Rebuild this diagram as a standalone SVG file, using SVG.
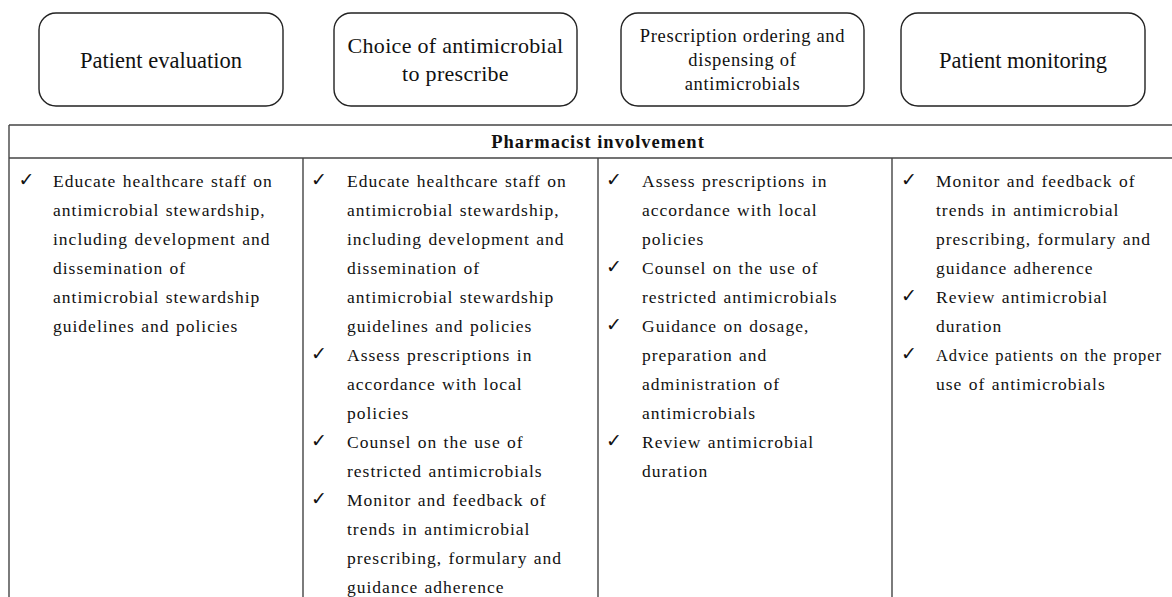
<svg xmlns="http://www.w3.org/2000/svg" width="1172" height="597" viewBox="0 0 1172 597">
<style>
.box{fill:#fff;stroke:#222;stroke-width:1.4}
.bt{font-family:"Liberation Serif","Times New Roman",serif;fill:#111;text-anchor:middle}
.grid{stroke:#444;stroke-width:1.4;fill:none}
.hd{font-family:"Liberation Serif","Times New Roman",serif;font-weight:bold;font-size:18.5px;letter-spacing:1px;fill:#111;text-anchor:middle}
.b{font-family:"Liberation Serif","Times New Roman",serif;font-size:17.5px;letter-spacing:1px;word-spacing:1px;fill:#111}
.ck{font-family:"DejaVu Sans",sans-serif;font-size:19px;fill:#111;text-anchor:middle}
</style>
<rect width="1172" height="597" fill="#fff"/>
<g id="node-patient-evaluation">
<rect class="box" x="39" y="13" width="244" height="93" rx="17"/>
<text class="bt" x="161" y="68" font-size="22.5">Patient evaluation</text>
</g>
<g id="node-choice">
<rect class="box" x="334" y="13" width="243" height="93" rx="17"/>
<text class="bt" x="455.5" y="53" font-size="22" letter-spacing="0.3">Choice of antimicrobial</text>
<text class="bt" x="455.5" y="81" font-size="22" letter-spacing="0.3">to prescribe</text>
</g>
<g id="node-prescription">
<rect class="box" x="621" y="13" width="243" height="93" rx="17"/>
<text class="bt" x="742.5" y="42" font-size="18.5" letter-spacing="0.7">Prescription ordering and</text>
<text class="bt" x="742.5" y="66" font-size="18.5" letter-spacing="0.7">dispensing of</text>
<text class="bt" x="742.5" y="90" font-size="18.5" letter-spacing="0.7">antimicrobials</text>
</g>
<g id="node-patient-monitoring">
<rect class="box" x="901" y="13" width="244" height="93" rx="17"/>
<text class="bt" x="1023" y="68" font-size="22.5">Patient monitoring</text>
</g>
<g id="table">
<g id="table-grid" class="grid">
<line x1="9" y1="125" x2="1190" y2="125"/>
<line x1="9" y1="158" x2="1190" y2="158"/>
<line x1="9" y1="125" x2="9" y2="600"/>
<line x1="303" y1="158" x2="303" y2="600"/>
<line x1="598" y1="158" x2="598" y2="600"/>
<line x1="892" y1="158" x2="892" y2="600"/>
</g>
<text class="hd" x="598" y="148">Pharmacist involvement</text>
</g>
<g id="col-patient-evaluation">
<text class="ck" x="26.5" y="186">✓</text>
<text class="b" x="53" y="186.5">Educate healthcare staff on</text>
<text class="b" x="53" y="215.5">antimicrobial stewardship,</text>
<text class="b" x="53" y="244.5">including development and</text>
<text class="b" x="53" y="273.5">dissemination of</text>
<text class="b" x="53" y="302.5">antimicrobial stewardship</text>
<text class="b" x="53" y="331.5">guidelines and policies</text>
</g>
<g id="col-choice">
<text class="ck" x="319" y="186">✓</text>
<text class="b" x="347" y="186.5">Educate healthcare staff on</text>
<text class="b" x="347" y="215.5">antimicrobial stewardship,</text>
<text class="b" x="347" y="244.5">including development and</text>
<text class="b" x="347" y="273.5">dissemination of</text>
<text class="b" x="347" y="302.5">antimicrobial stewardship</text>
<text class="b" x="347" y="331.5">guidelines and policies</text>
<text class="ck" x="319" y="360">✓</text>
<text class="b" x="347" y="360.5">Assess prescriptions in</text>
<text class="b" x="347" y="389.5">accordance with local</text>
<text class="b" x="347" y="418.5">policies</text>
<text class="ck" x="319" y="447">✓</text>
<text class="b" x="347" y="447.5">Counsel on the use of</text>
<text class="b" x="347" y="476.5">restricted antimicrobials</text>
<text class="ck" x="319" y="505">✓</text>
<text class="b" x="347" y="505.5">Monitor and feedback of</text>
<text class="b" x="347" y="534.5">trends in antimicrobial</text>
<text class="b" x="347" y="563.5">prescribing, formulary and</text>
<text class="b" x="347" y="592.5">guidance adherence</text>
</g>
<g id="col-prescription">
<text class="ck" x="614" y="186">✓</text>
<text class="b" x="642" y="186.5">Assess prescriptions in</text>
<text class="b" x="642" y="215.5">accordance with local</text>
<text class="b" x="642" y="244.5">policies</text>
<text class="ck" x="614" y="273">✓</text>
<text class="b" x="642" y="273.5">Counsel on the use of</text>
<text class="b" x="642" y="302.5">restricted antimicrobials</text>
<text class="ck" x="614" y="331">✓</text>
<text class="b" x="642" y="331.5">Guidance on dosage,</text>
<text class="b" x="642" y="360.5">preparation and</text>
<text class="b" x="642" y="389.5">administration of</text>
<text class="b" x="642" y="418.5">antimicrobials</text>
<text class="ck" x="614" y="447">✓</text>
<text class="b" x="642" y="447.5">Review antimicrobial</text>
<text class="b" x="642" y="476.5">duration</text>
</g>
<g id="col-patient-monitoring">
<text class="ck" x="909" y="186">✓</text>
<text class="b" x="936" y="186.5">Monitor and feedback of</text>
<text class="b" x="936" y="215.5">trends in antimicrobial</text>
<text class="b" x="936" y="244.5">prescribing, formulary and</text>
<text class="b" x="936" y="273.5">guidance adherence</text>
<text class="ck" x="909" y="302">✓</text>
<text class="b" x="936" y="302.5">Review antimicrobial</text>
<text class="b" x="936" y="331.5">duration</text>
<text class="ck" x="909" y="360">✓</text>
<text class="b" x="936" y="360.5" textLength="226" lengthAdjust="spacingAndGlyphs">Advice patients on the proper</text>
<text class="b" x="936" y="389.5">use of antimicrobials</text>
</g>
</svg>
